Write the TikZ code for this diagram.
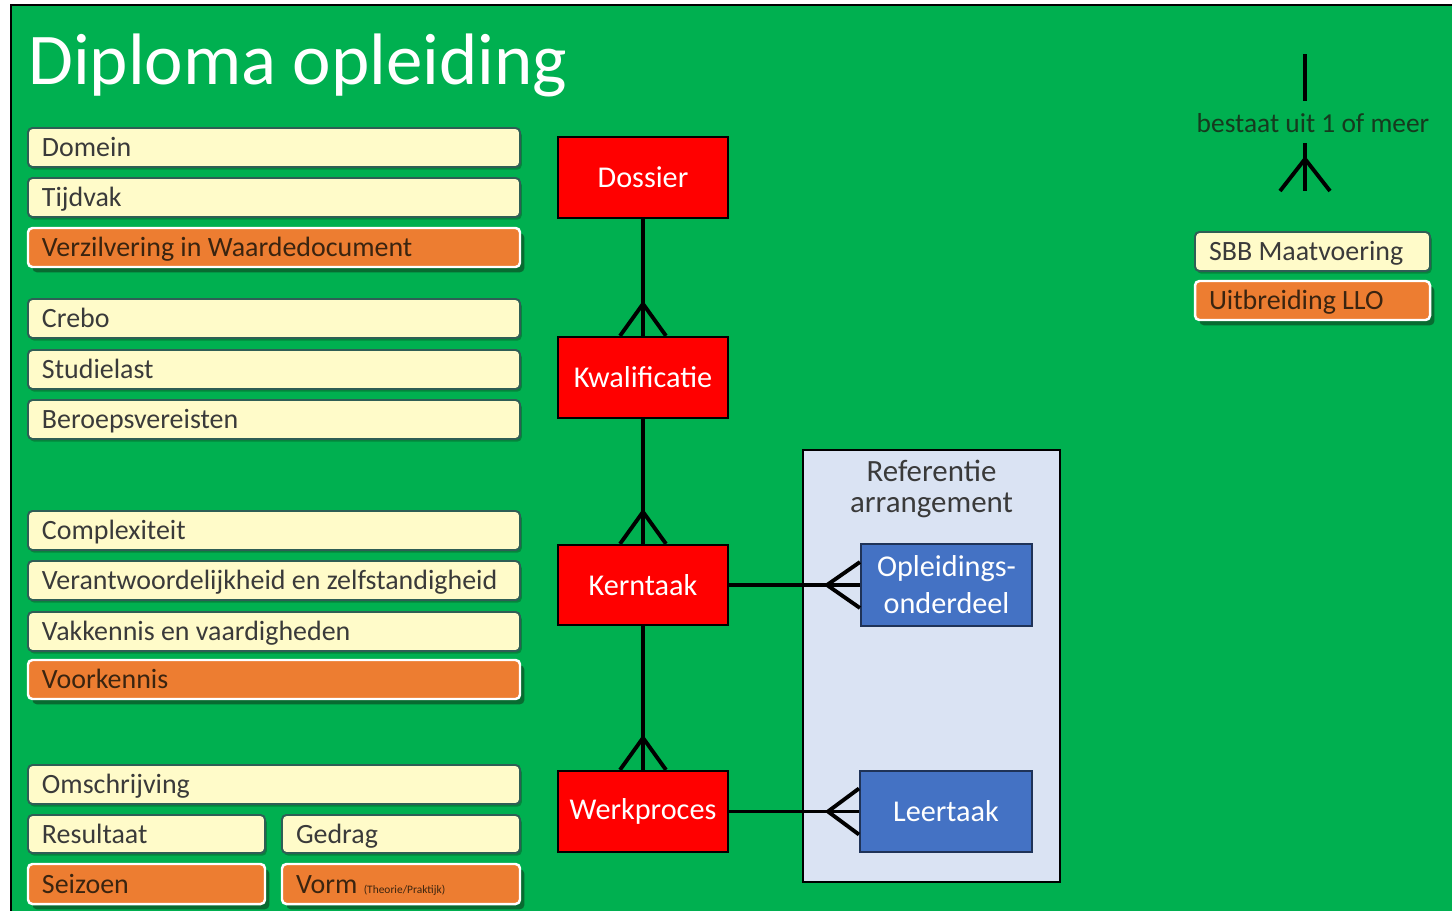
\documentclass[tikz,border=0pt]{standalone}
\usepackage{fontspec}
\setmainfont{Carlito}
\usetikzlibrary{calc,shadows}
\definecolor{bggreen}{HTML}{00B050}
\definecolor{fieldfill}{HTML}{FFFBC9}
\definecolor{boxedge}{HTML}{2F5E55}
\definecolor{fieldtext}{HTML}{3A3A3A}
\definecolor{orangefill}{HTML}{ED7D31}
\definecolor{orangetext}{HTML}{3A2410}
\definecolor{shadowgreen}{HTML}{0A5A2A}
\definecolor{redfill}{HTML}{FF0000}
\definecolor{bluefill}{HTML}{4472C4}
\definecolor{blueedge}{HTML}{1F3358}
\definecolor{reffill}{HTML}{DAE3F3}
\definecolor{legendtext}{HTML}{163A1E}
\newcommand\fieldbox[7]{%
  \pgfmathsetlengthmacro\fieldw{(#5-#3)*0.02cm-0.56cm}%
  \node[#2, minimum width={(#5-#3)*0.02cm}, minimum height={(#6-#4)*0.02cm}] (#1) at ({(#3+#5)/2},{(#4+#6)/2}) {\makebox[\fieldw][l]{#7}};}
\newcommand\centerbox[7]{\node[#2, minimum width={(#5-#3)*0.02cm}, minimum height={(#6-#4)*0.02cm}] (#1) at ({(#3+#5)/2},{(#4+#6)/2}) {#7};}
\begin{document}
\begin{tikzpicture}[x=0.02cm,y=-0.02cm,
  field/.style={draw=boxedge, line width=1.1pt, fill=fieldfill, rounded corners=2.5pt,
    inner xsep=0.28cm, inner ysep=0pt, font=\fontsize{15.9}{17}\selectfont,
    text=fieldtext, text height=13.6pt, text depth=3pt},
  yfield/.style={field, drop shadow={shadow xshift=1pt, shadow yshift=-1.5pt, fill=shadowgreen, opacity=0.5}},
  ofield/.style={field, draw=white, line width=1.4pt, fill=orangefill, text=orangetext,
    drop shadow={shadow xshift=2.5pt, shadow yshift=-3pt, fill=shadowgreen, opacity=0.8}},
  entity/.style={draw=black, line width=1.3pt, fill=redfill, text=white, inner sep=0pt,
    font=\fontsize{17.2}{19}\selectfont},
  subentity/.style={draw=blueedge, line width=1.2pt, fill=bluefill, text=white, inner sep=0pt,
    align=center, font=\fontsize{17.2}{21}\selectfont},
  conn/.style={line width=2.2pt, black},
]
\useasboundingbox (0,0) rectangle (1452,910);
\fill[white] (0,0) rectangle (1452,910);
\draw[fill=bggreen, line width=1.4pt, draw=black] (11,5) rectangle (1460,915);

% title
\node[anchor=base west, text=white, inner sep=0pt, font=\fontsize{41.5}{45}\selectfont] (title) at (28,84) {Diploma opleiding};

% left field boxes
\fieldbox{domein}{yfield}{28}{128}{520}{167}{Domein}
\fieldbox{tijdvak}{yfield}{28}{178}{520}{217}{Tijdvak}
\fieldbox{verz}{ofield}{28}{228}{520}{267}{Verzilvering in Waardedocument}
\fieldbox{crebo}{yfield}{28}{299}{520}{338}{Crebo}
\fieldbox{studie}{yfield}{28}{350}{520}{389}{Studielast}
\fieldbox{beroep}{yfield}{28}{400}{520}{439}{Beroepsvereisten}
\fieldbox{compl}{yfield}{28}{511}{520}{550}{Complexiteit}
\fieldbox{verant}{yfield}{28}{561}{520}{600}{Verantwoordelijkheid en zelfstandigheid}
\fieldbox{vak}{yfield}{28}{612}{520}{651}{Vakkennis en vaardigheden}
\fieldbox{voork}{ofield}{28}{660}{520}{699}{Voorkennis}
\fieldbox{omschr}{yfield}{28}{765}{520}{804}{Omschrijving}
\fieldbox{result}{yfield}{28}{815}{265}{853}{Resultaat}
\fieldbox{gedrag}{yfield}{282}{815}{520}{853}{Gedrag}
\fieldbox{seizoen}{ofield}{28}{864}{265}{904}{Seizoen}
\fieldbox{vorm}{ofield}{282}{864}{520}{904}{Vorm {\fontsize{6.5}{7}\selectfont(Theorie/Praktijk)}}

% red entities
\centerbox{dos}{entity}{558}{137}{728}{218}{Dossier}
\centerbox{kwa}{entity}{558}{337}{728}{418}{Kwalificatie}
\centerbox{ker}{entity}{558}{545}{728}{625}{Kerntaak}
\centerbox{wer}{entity}{558}{771}{728}{852}{Werkproces}

% reference arrangement
\centerbox{ref}{draw=black, line width=1.3pt, fill=reffill, inner sep=0pt,
  label={[anchor=north, yshift=-3pt, align=center, text=fieldtext, font=\fontsize{17.6}{17.6}\selectfont]north:Referentie\\arrangement}}{803}{450}{1060}{882}{}
\centerbox{opl}{subentity}{861}{544}{1032}{626}{Opleidings-\\onderdeel}
\centerbox{leer}{subentity}{860}{771}{1032}{852}{Leertaak}

% connectors with crow's feet
\draw[conn] (dos.south) -- (kwa.north);
\draw[conn] ($(kwa.north)+(-23,0)$) -- ++(23,-32) -- ++(23,32);
\draw[conn] (kwa.south) -- (ker.north);
\draw[conn] ($(ker.north)+(-23,0)$) -- ++(23,-32) -- ++(23,32);
\draw[conn] (ker.south) -- (wer.north);
\draw[conn] ($(wer.north)+(-23,0)$) -- ++(23,-32) -- ++(23,32);
\draw[conn] (ker.east) -- (opl.west);
\draw[conn] ($(opl.west)+(0,-23)$) -- ++(-33,23) -- ++(33,23);
\draw[conn] (wer.east) -- (leer.west);
\draw[conn] ($(leer.west)+(0,-23)$) -- ++(-31,23) -- ++(31,23);

% legend
\coordinate (la) at (1305,54);
\coordinate (lb) at (1305,101);
\draw[conn] (la) -- (lb);
\node[text=legendtext, inner sep=0pt, font=\fontsize{15.6}{17}\selectfont] (leg) at (1313,123) {bestaat uit 1 of meer};
\coordinate (lc) at (1305,143);
\coordinate (ld) at (1305,191);
\draw[conn] (lc) -- (ld);
\draw[conn] ($(ld)+(-25,0)$) -- ($(ld)+(0,-32)$) -- ($(ld)+(25,0)$);

\fieldbox{sbb}{yfield}{1195}{232}{1430}{271}{SBB Maatvoering}
\fieldbox{llo}{ofield}{1195}{281}{1430}{320}{Uitbreiding LLO}
\end{tikzpicture}
\end{document}
